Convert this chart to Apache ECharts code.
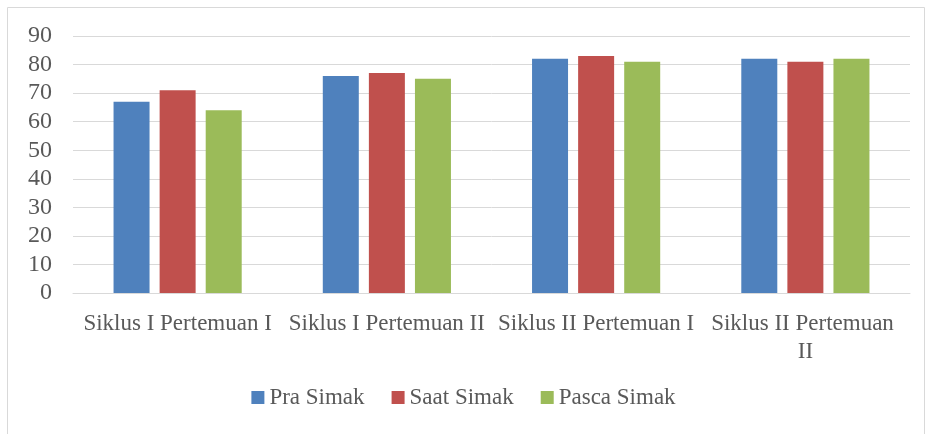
<!DOCTYPE html>
<html>
<head>
<meta charset="utf-8">
<script src="https://cdn.jsdelivr.net/npm/echarts@6/dist/echarts.min.js"></script>
<style>
  html, body { margin: 0; padding: 0; background: #fff; }
  #chart { width: 927px; height: 434px; }
</style>
</head>
<body>
<div id="chart"></div>
<script>
const categories = ['Siklus I Pertemuan I', 'Siklus I Pertemuan II', 'Siklus II Pertemuan I', 'Siklus II Pertemuan II'];
const praSimak = [67, 76, 82, 82];
const saatSimak = [71, 77, 83, 81];
const pascaSimak = [64, 75, 81, 82];

const font = '"Liberation Serif", "DejaVu Serif", serif';

const chart = echarts.init(document.getElementById('chart'));

function bar(name, data, color) {
  return {
    name: name,
    type: 'bar',
    data: data,
    barWidth: 36,
    barGap: '28%',
    itemStyle: { color: color }
  };
}

chart.setOption({
  animation: false,
  textStyle: { fontFamily: font },
  graphic: [{
    type: 'rect',
    shape: { x: 7.5, y: 7.5, width: 917, height: 440 },
    style: { fill: 'none', stroke: '#d9d9d9', lineWidth: 1 }
  }],
  grid: { left: 73, right: 17, top: 36, bottom: 141 },
  legend: {
    bottom: 20,
    left: 'center',
    itemWidth: 13,
    itemHeight: 13,
    itemGap: 27,
    icon: 'rect',
    textStyle: {
      fontFamily: 'serif', fontSize: 23, color: '#595959',
      fontWeight: 'normal', fontStyle: 'normal'
    },
    data: ['Pra Simak', 'Saat Simak', 'Pasca Simak']
  },
  xAxis: {
    type: 'category',
    data: categories,
    axisLine: { lineStyle: { color: '#d9d9d9' } },
    axisTick: { show: false },
    axisLabel: {
      interval: 0,
      margin: 17,
      fontFamily: font,
      fontSize: 23,
      color: '#595959',
      width: 200,
      overflow: 'break',
      lineHeight: 28
    }
  },
  yAxis: {
    type: 'value',
    min: 0,
    max: 90,
    interval: 10,
    axisLine: { show: false },
    axisTick: { show: false },
    splitLine: { lineStyle: { color: '#d9d9d9', width: 1 } },
    axisLabel: { fontFamily: font, fontSize: 24, color: '#595959', margin: 21 }
  },
  series: [
    bar('Pra Simak', praSimak, '#4f81bd'),
    bar('Saat Simak', saatSimak, '#c0504d'),
    bar('Pasca Simak', pascaSimak, '#9bbb59')
  ]
});
</script>
</body>
</html>
